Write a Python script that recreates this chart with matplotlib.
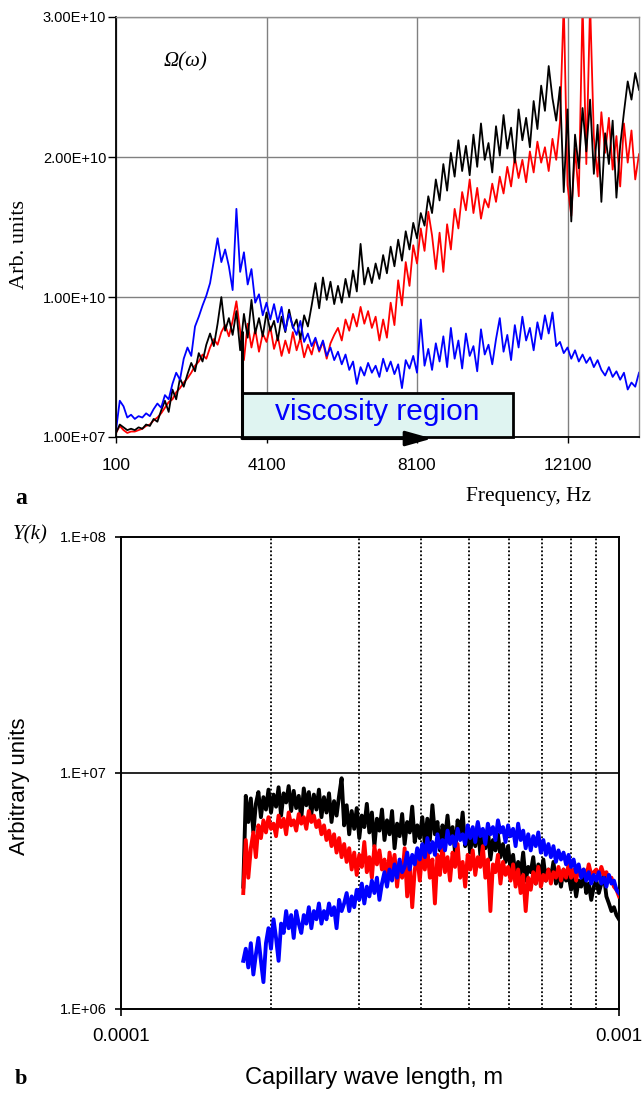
import numpy as np
import matplotlib
matplotlib.use("Agg")
import matplotlib.pyplot as plt
from matplotlib.patches import Rectangle
from matplotlib.ticker import FixedLocator, NullLocator

# ---- panel a: spectra vs frequency (values in units of 1e9), 100 Hz step ----
freq_start, freq_step = 100, 100

omega_blue = [
    0.5, 2.6, 2.2, 1.4, 1.6, 1.3, 1.5, 1.4, 1.7, 1.5,
    2.0, 2.4, 2.1, 3.0, 2.7, 3.8, 4.6, 4.1, 5.6, 6.4,
    5.8, 7.9, 8.6, 9.4, 10.1, 11.0, 12.6, 14.2, 12.5, 13.4,
    12.2, 10.5, 16.3, 11.8, 13.2, 10.9, 12.0, 9.6, 10.2, 8.7,
    9.6, 8.4, 9.5, 8.2, 9.3, 7.6, 8.8, 7.9, 7.3, 8.3,
    6.8, 7.4, 6.5, 7.1, 6.2, 6.9, 5.8, 6.4, 5.5, 6.1,
    5.2, 5.9, 4.8, 5.4, 3.8, 5.0, 4.4, 5.3, 4.6, 5.1,
    4.3, 5.6, 4.7, 5.4, 4.5, 5.2, 3.5, 5.5, 4.9, 5.8,
    4.6, 8.4, 5.1, 6.3, 4.8, 6.7, 5.4, 7.2, 5.0, 7.8,
    5.6, 6.9, 4.9, 7.4, 5.8, 6.5, 4.7, 7.7, 5.9, 6.6,
    5.2, 7.0, 8.5, 6.1, 7.3, 5.5, 8.0, 6.4, 8.6, 6.9,
    7.8, 6.2, 8.2, 7.0, 8.7, 7.4, 8.9, 6.5, 6.8, 6.0,
    6.4, 5.6, 6.2, 5.4, 5.9, 5.3, 5.7, 5.0, 5.5, 4.8,
    4.4, 5.0, 4.3, 4.7, 4.1, 4.6, 3.4, 3.9, 3.6, 4.6,
]

omega_black = [
    0.3, 0.9, 0.7, 0.5, 0.6, 0.5, 0.7, 0.6, 0.9, 0.8,
    1.3, 1.1, 1.9, 2.6, 1.8, 3.4, 2.7, 4.2, 3.6, 4.5,
    5.3, 4.7, 6.0, 5.4, 6.6, 7.4, 6.5, 8.1, 10.0, 7.6,
    8.5, 7.3, 9.0, 6.2, 8.8, 7.1, 9.8, 7.4, 8.5, 7.2,
    8.9, 7.6, 8.3, 6.9, 8.6, 7.5, 9.1, 7.8, 8.4, 7.0,
    8.7, 7.9, 9.4, 11.0, 9.2, 11.4, 9.8, 11.1, 9.5, 10.8,
    9.6, 11.3, 10.0, 11.9, 10.4, 13.8, 10.9, 12.1, 11.0, 12.4,
    11.3, 13.0, 11.7, 13.6, 12.2, 14.1, 12.6, 14.7, 13.4, 15.3,
    14.2, 16.0, 15.1, 17.2, 16.0, 18.4, 16.9, 19.5, 17.6, 20.3,
    18.6, 21.2, 19.0, 20.8, 18.7, 21.6, 19.3, 22.4, 19.8, 21.0,
    18.9, 22.2, 20.1, 23.0, 20.6, 22.1, 19.6, 23.4, 21.2, 22.8,
    20.7, 24.0, 22.0, 25.1, 23.3, 26.5, 24.2, 22.6, 25.0, 17.5,
    23.4, 15.4, 21.6, 19.2, 23.5, 20.4, 24.1, 18.8, 22.3, 16.8,
    21.7, 19.5, 22.6, 17.1, 20.8, 23.2, 25.4, 24.1, 26.0, 24.8,
]

omega_red = [
    0.3, 0.8, 0.5, 0.3, 0.4, 0.4, 0.5, 0.6, 0.8, 0.9,
    1.2, 1.4, 1.7, 2.1, 2.5, 2.7, 3.2, 3.5, 3.9, 4.2,
    4.6, 5.1, 5.4, 5.9, 5.6, 6.4, 7.0, 6.6, 7.5, 8.0,
    7.2, 8.3, 9.7, 7.6, 5.5, 8.1, 6.4, 7.7, 6.1, 7.4,
    6.8, 7.9, 6.3, 7.2, 5.8, 6.9, 6.0, 7.5, 6.2, 7.1,
    5.7, 6.6, 5.9, 7.0, 6.1, 6.8, 5.6, 6.7, 7.3, 7.8,
    6.9, 8.4, 7.6, 8.8, 7.9, 9.3, 8.1, 9.0, 7.8, 8.6,
    6.9, 8.4, 7.1, 9.6, 8.0, 11.2, 9.4, 12.5, 10.8, 13.7,
    12.4, 14.9, 13.3, 16.1, 14.4, 12.0, 14.6, 11.8, 15.2, 13.4,
    16.3, 14.9, 17.5, 16.2, 18.4, 16.0, 17.8, 15.6, 17.0, 16.4,
    18.1, 16.8, 18.6, 17.4, 19.3, 17.9, 20.0, 18.5, 19.8, 18.2,
    20.4, 18.9, 21.1, 19.6, 20.7, 19.0, 21.3, 19.8, 22.5, 31.0,
    18.0, 15.8, 20.6, 17.2, 31.0, 19.5, 31.0, 21.4, 18.6, 23.2,
    20.3, 22.8, 19.1, 21.5, 17.9, 22.4, 19.6, 21.9, 18.4, 20.2,
]

# ---- panel b: spectra vs capillary wave length (values in units of 1e6) ----
lam_first, lam_last = 1.76e-4, 1.0e-3

y_black = [
    3.3, 8.0, 6.2, 7.8, 5.6, 7.4, 8.3, 6.5, 7.9, 7.0,
    8.5, 6.8, 8.1, 7.2, 8.7, 6.6, 8.2, 7.5, 8.8, 6.9,
    8.4, 7.1, 8.0, 6.4, 8.6, 7.3, 8.3, 6.7, 8.1, 7.0,
    8.5, 6.5, 7.9, 6.8, 8.2, 6.2, 7.6, 6.6, 8.0, 9.5,
    6.0, 7.3, 5.5, 6.9, 5.8, 7.1, 5.3, 6.6, 5.9, 7.4,
    5.6, 6.8, 4.9, 6.4, 5.7, 7.0, 5.2, 6.3, 5.5, 6.9,
    4.8, 6.1, 5.4, 6.7, 5.0, 6.2, 5.6, 7.2, 5.1, 6.0,
    5.3, 6.5, 5.0, 6.4, 5.2, 7.3, 5.5, 6.2, 4.7, 6.0,
    5.3, 6.6, 5.1, 5.9, 4.6, 6.3, 5.4, 6.8, 4.9, 5.7,
    4.6, 5.6, 4.9, 6.1, 4.5, 5.4, 4.8, 5.8, 4.3, 5.2,
    4.7, 5.5, 4.4, 5.0, 4.2, 4.9, 3.9, 4.5, 3.6, 4.2,
    3.7, 4.6, 3.5, 4.0, 3.8, 4.4, 3.4, 4.1, 3.7, 4.3,
    3.5, 3.9, 3.6, 4.2, 3.4, 3.8, 3.3, 3.9, 3.5, 3.7,
    3.2, 3.6, 3.0, 3.5, 3.3, 3.8, 3.1, 3.4, 2.9, 3.3,
    3.5, 3.1, 3.4, 3.7, 3.0, 2.8, 2.6, 2.7, 2.5, 2.4,
]

y_red = [
    3.1, 5.2, 3.6, 4.8, 5.6, 4.4, 6.0, 5.3, 6.3, 5.6,
    6.5, 5.8, 6.1, 5.4, 6.6, 5.9, 6.4, 5.5, 6.8, 6.0,
    6.3, 5.7, 6.7, 6.1, 6.5, 5.8, 6.9, 6.2, 6.6, 5.9,
    6.3, 5.5, 6.0, 5.2, 5.7, 4.9, 5.5, 4.6, 5.3, 4.4,
    5.0, 4.2, 4.8, 3.9, 4.6, 3.7, 4.5, 4.0, 5.1, 3.8,
    4.4, 3.6, 4.9, 4.1, 4.7, 3.9, 4.3, 3.4, 4.6, 3.8,
    4.5, 3.3, 4.2, 3.6, 4.8, 3.0, 4.1, 2.7, 3.9, 4.4,
    3.5, 4.7, 3.9, 4.8, 3.6, 4.3, 2.8, 4.5, 3.7, 4.9,
    3.8, 4.4, 3.5, 4.6, 4.0, 5.0, 3.6, 4.2, 3.3, 4.5,
    3.9, 4.7, 3.7, 4.4, 4.0, 4.9, 3.6, 4.3, 2.6, 4.1,
    3.8, 4.5, 3.4, 4.2, 3.7, 4.0, 3.5, 4.1, 3.3, 3.9,
    3.1, 3.7, 2.6, 3.6, 3.2, 3.8, 3.4, 4.0, 3.3, 3.7,
    3.5, 3.9, 3.4, 3.8, 3.6, 4.0, 3.5, 3.9, 3.6, 4.1,
    3.6, 3.9, 3.5, 4.0, 3.7, 3.9, 3.6, 4.1, 3.7, 3.8,
    3.9, 3.6, 4.0, 3.7, 3.8, 3.5, 3.6, 3.3, 3.2, 3.0,
]

y_blue = [
    1.6, 1.8, 1.5, 1.9, 1.4, 1.7, 2.0, 1.6, 1.3, 1.9,
    2.2, 1.8, 2.4, 2.0, 1.6, 2.3, 2.1, 2.6, 2.2, 2.5,
    2.0, 2.6, 2.3, 2.1, 2.5, 2.3, 2.7, 2.2, 2.6, 2.4,
    2.8, 2.3, 2.6, 2.4, 2.8, 2.5, 2.7, 2.2, 2.9, 2.6,
    2.8, 3.1, 2.6, 3.0, 2.7, 3.2, 2.9, 3.4, 2.8, 3.3,
    3.0, 3.5, 3.1, 3.6, 2.9, 3.4, 3.8, 3.3, 3.9, 3.5,
    4.1, 3.6, 4.3, 3.8, 4.0, 4.6, 3.9, 4.5, 4.1, 4.8,
    4.3, 5.0, 4.4, 5.3, 4.6, 5.1, 4.5, 5.5, 4.8, 5.2,
    4.7, 5.7, 5.0, 5.4, 4.9, 5.8, 5.2, 5.5, 5.0, 6.0,
    5.3, 5.9, 5.1, 6.2, 5.4, 5.8, 5.0, 6.1, 5.5, 5.9,
    5.2, 6.3, 5.6, 5.9, 5.1, 6.0, 5.4, 5.8, 4.9, 6.1,
    5.2, 5.7, 4.8, 5.5, 4.7, 5.4, 4.9, 5.6, 4.6, 5.2,
    4.5, 5.0, 4.4, 4.9, 4.2, 4.7, 4.3, 4.6, 4.1, 4.5,
    4.0, 4.3, 3.8, 4.1, 3.6, 3.9, 3.5, 3.8, 3.4, 3.7,
    3.5, 3.8, 3.4, 3.6, 3.3, 3.7, 3.4, 3.5, 3.2, 3.1,
]

a_yticks = [1e7, 1e10, 2e10, 3e10]
a_yticklabels = ["1.00E+07", "1.00E+10", "2.00E+10", "3.00E+10"]
a_xticks = [100, 4100, 8100, 12100]
b_yticks = [1e6, 1e7, 1e8]
b_yticklabels = ["1.E+06", "1.E+07", "1.E+08"]
b_xticks = [1e-4, 1e-3]
b_xticklabels = ["0.0001", "0.001"]
b_dotted = [2e-4, 3e-4, 4e-4, 5e-4, 6e-4, 7e-4, 8e-4, 9e-4]

SANS = "Liberation Sans"
SERIF = "Liberation Serif"

freq = freq_start + freq_step * np.arange(len(omega_blue))
lam = np.geomspace(lam_first, lam_last, len(y_black))

fig = plt.figure(figsize=(6.44, 10.96), dpi=100)

# ================= panel a =================
ax1 = fig.add_axes([116 / 644, 1 - 437 / 1096, 523 / 644, 420 / 1096])
ax1.plot(freq, np.array(omega_red) * 1e9, color="red", lw=1.3)
ax1.plot(freq, np.array(omega_black) * 1e9, color="black", lw=1.3)
ax1.plot(freq, np.array(omega_blue) * 1e9, color="blue", lw=1.3)

ax1.set_xlim(100, 14000)
ax1.set_ylim(1e7, 3e10)
ax1.set_yticks(a_yticks)
ax1.set_yticklabels(a_yticklabels, fontsize=10.5, family=SANS)
ax1.set_xticks(a_xticks)
ax1.set_xticklabels([str(v) for v in a_xticks], fontsize=12.5, family=SANS)
ax1.tick_params(axis="y", direction="out", length=6, width=1, pad=1)
ax1.tick_params(axis="x", direction="out", length=4, width=1, pad=11)
ax1.grid(True, color="#808080", lw=1.0)
ax1.set_axisbelow(True)
for s in ["top", "right"]:
    ax1.spines[s].set_color("#909090")
    ax1.spines[s].set_linewidth(1.0)
for s in ["left", "bottom"]:
    ax1.spines[s].set_color("black")
    ax1.spines[s].set_linewidth(1.3)

# viscosity region box with arrow
ax1.add_patch(Rectangle((3450, 1e7), 7200, 3.13e9, facecolor="#dff4f1",
                        edgecolor="black", lw=2.0, zorder=5, clip_on=False))
ax1.plot([3450, 3450], [1e7, 7.6e9], color="black", lw=2.2, zorder=6,
         solid_capstyle="butt")
ax1.text(7040, 1.8e9, "viscosity region", color="blue", fontsize=21.5,
         family=SANS, ha="center", va="center", zorder=7)
ax1.annotate("", xy=(8500, -0.1e9), xytext=(3450, -0.1e9),
             arrowprops=dict(arrowstyle="-|>,head_length=1.6,head_width=0.45",
                             color="black", lw=2.2, shrinkA=0, shrinkB=0),
             zorder=7, annotation_clip=False)

fig.text(185 / 644, 1 - 62 / 1096, "Ω(ω)", fontsize=15, family=SERIF,
         style="italic", ha="center", va="center")
fig.text(20 / 644, 1 - 245 / 1096, "Arb. units", fontsize=16, family=SERIF,
         rotation=90, ha="center", va="center")
fig.text(528 / 644, 1 - 497 / 1096, "Frequency, Hz", fontsize=15.5,
         family=SERIF, ha="center", va="center")
fig.text(21 / 644, 1 - 498 / 1096, "a", fontsize=17, family=SERIF,
         weight="bold", ha="center", va="center")

# ================= panel b =================
ax2 = fig.add_axes([121 / 644, 1 - 1009 / 1096, 498 / 644, 472 / 1096])
ax2.set_xscale("log")
ax2.set_yscale("log")
for xv in b_dotted:
    ax2.axvline(xv, color="black", lw=1.3, ls=(0, (1, 1.2)), zorder=1)
ax2.axhline(1e7, color="black", lw=1.2, zorder=1)

ax2.plot(lam, np.array(y_black) * 1e6, color="black", lw=2.8, zorder=2)
ax2.plot(lam, np.array(y_red) * 1e6, color="red", lw=2.8, zorder=3)
ax2.plot(lam, np.array(y_blue) * 1e6, color="blue", lw=2.8, zorder=4)

ax2.set_xlim(1e-4, 1e-3)
ax2.set_ylim(1e6, 1e8)
ax2.xaxis.set_major_locator(FixedLocator(b_xticks))
ax2.xaxis.set_minor_locator(NullLocator())
ax2.yaxis.set_major_locator(FixedLocator(b_yticks))
ax2.yaxis.set_minor_locator(NullLocator())
ax2.set_xticklabels(b_xticklabels, fontsize=13.5, family=SANS)
ax2.set_yticklabels(b_yticklabels, fontsize=10.5, family=SANS)
ax2.tick_params(axis="y", direction="out", length=4, width=1.2, pad=6)
ax2.tick_params(axis="x", direction="out", length=5, width=1.2, pad=9)
for s in ax2.spines.values():
    s.set_color("black")
    s.set_linewidth(1.4)

fig.text(30 / 644, 1 - 535 / 1096, "Y(k)", fontsize=15, family=SERIF,
         style="italic", ha="center", va="center")
fig.text(20 / 644, 1 - 786 / 1096, "Arbitrary units", fontsize=16,
         family=SANS, rotation=90, ha="center", va="center")
fig.text(374 / 644, 1 - 1078 / 1096, "Capillary wave length, m",
         fontsize=17, family=SANS, ha="center", va="center")
fig.text(21 / 644, 1 - 1079 / 1096, "b", fontsize=16, family=SERIF,
         weight="bold", ha="center", va="center")

fig.savefig("out.png", dpi=100)
